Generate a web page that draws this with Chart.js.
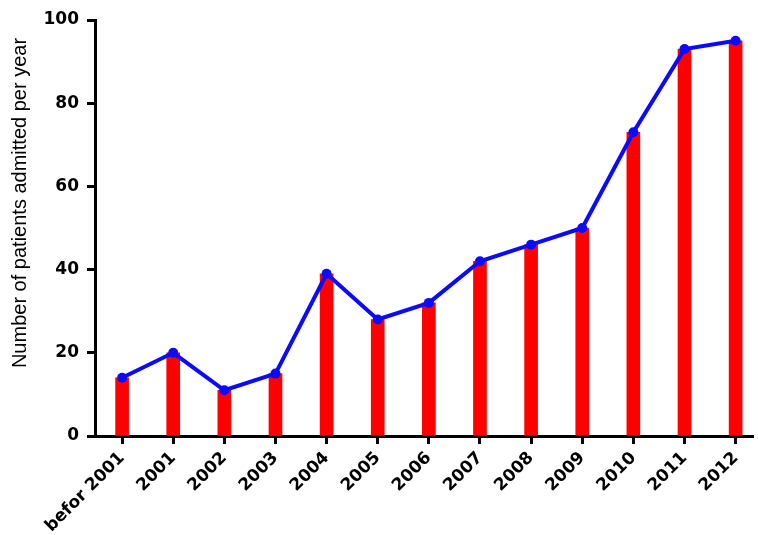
<!DOCTYPE html>
<html>
<head>
<meta charset="utf-8">
<script src="https://cdn.jsdelivr.net/npm/chart.js@4.4.1/dist/chart.umd.min.js"></script>
<style>
  html, body { margin: 0; padding: 0; background: #fff; }
  #wrap { width: 758px; height: 535px; position: relative; }
</style>
</head>
<body>
<div id="wrap"><canvas id="grafico"></canvas></div>
<script>
const anos = [
  "befor 2001", "2001", "2002", "2003", "2004", "2005", "2006",
  "2007", "2008", "2009", "2010", "2011", "2012",
];
const pacientes = [14, 20, 11, 15, 39, 28, 32, 42, 46, 50, 73, 93, 95];
const ticksY = [0, 20, 40, 60, 80, 100];

const pontos = pacientes.map((v, i) => ({ x: i, y: v }));

const fonteTicks = { family: "'DejaVu Sans'", size: 17, weight: "bold" };

new Chart(document.getElementById("grafico").getContext("2d"), {
  type: "bar",
  data: {
    datasets: [
      {
        type: "line",
        data: pontos,
        borderColor: "#0a0aff",
        backgroundColor: "#0a0aff",
        borderWidth: 4,
        pointRadius: 5,
        pointBackgroundColor: "#0a0aff",
        pointBorderWidth: 0,
        tension: 0,
        order: 0,
      },
      {
        type: "bar",
        data: pontos,
        backgroundColor: "#ff0000",
        borderWidth: 0,
        barThickness: 13,
        order: 1,
      },
    ],
  },
  options: {
    responsive: true,
    maintainAspectRatio: false,
    animation: false,
    layout: { padding: { top: 20, right: 0, left: 0, bottom: 0 } },
    plugins: {
      legend: { display: false },
      tooltip: { enabled: false },
    },
    scales: {
      x: {
        type: "linear",
        offset: false,
        min: -0.53,
        max: 12.34,
        afterFit: (scale) => { scale.height = 99; },
        afterBuildTicks: (scale) => {
          scale.ticks = anos.map((_, i) => ({ value: i }));
        },
        ticks: {
          autoSkip: false,
          maxRotation: 45,
          minRotation: 45,
          padding: 4,
          color: "#000",
          font: fonteTicks,
          callback: (v) => anos[v],
        },
        grid: {
          offset: false,
          drawOnChartArea: false,
          tickLength: 8,
          tickWidth: 3,
          tickColor: "#000",
        },
        border: { display: true, color: "#000", width: 3 },
      },
      y: {
        min: 0,
        max: 100,
        afterFit: (scale) => { scale.width = 95; },
        afterBuildTicks: (scale) => {
          scale.ticks = ticksY.map((v) => ({ value: v }));
        },
        ticks: { padding: 8, color: "#000", font: fonteTicks },
        grid: {
          drawOnChartArea: false,
          tickLength: 8,
          tickWidth: 3,
          tickColor: "#000",
        },
        border: { display: true, color: "#000", width: 3 },
        title: {
          display: true,
          // leading spaces lift the centred title a little towards the top
          text: "         Number of patients admitted per year",
          color: "#000",
          font: { family: "'Liberation Sans', Arial", size: 20 },
          padding: { top: 8, bottom: 0 },
        },
      },
    },
  },
});
</script>
</body>
</html>
